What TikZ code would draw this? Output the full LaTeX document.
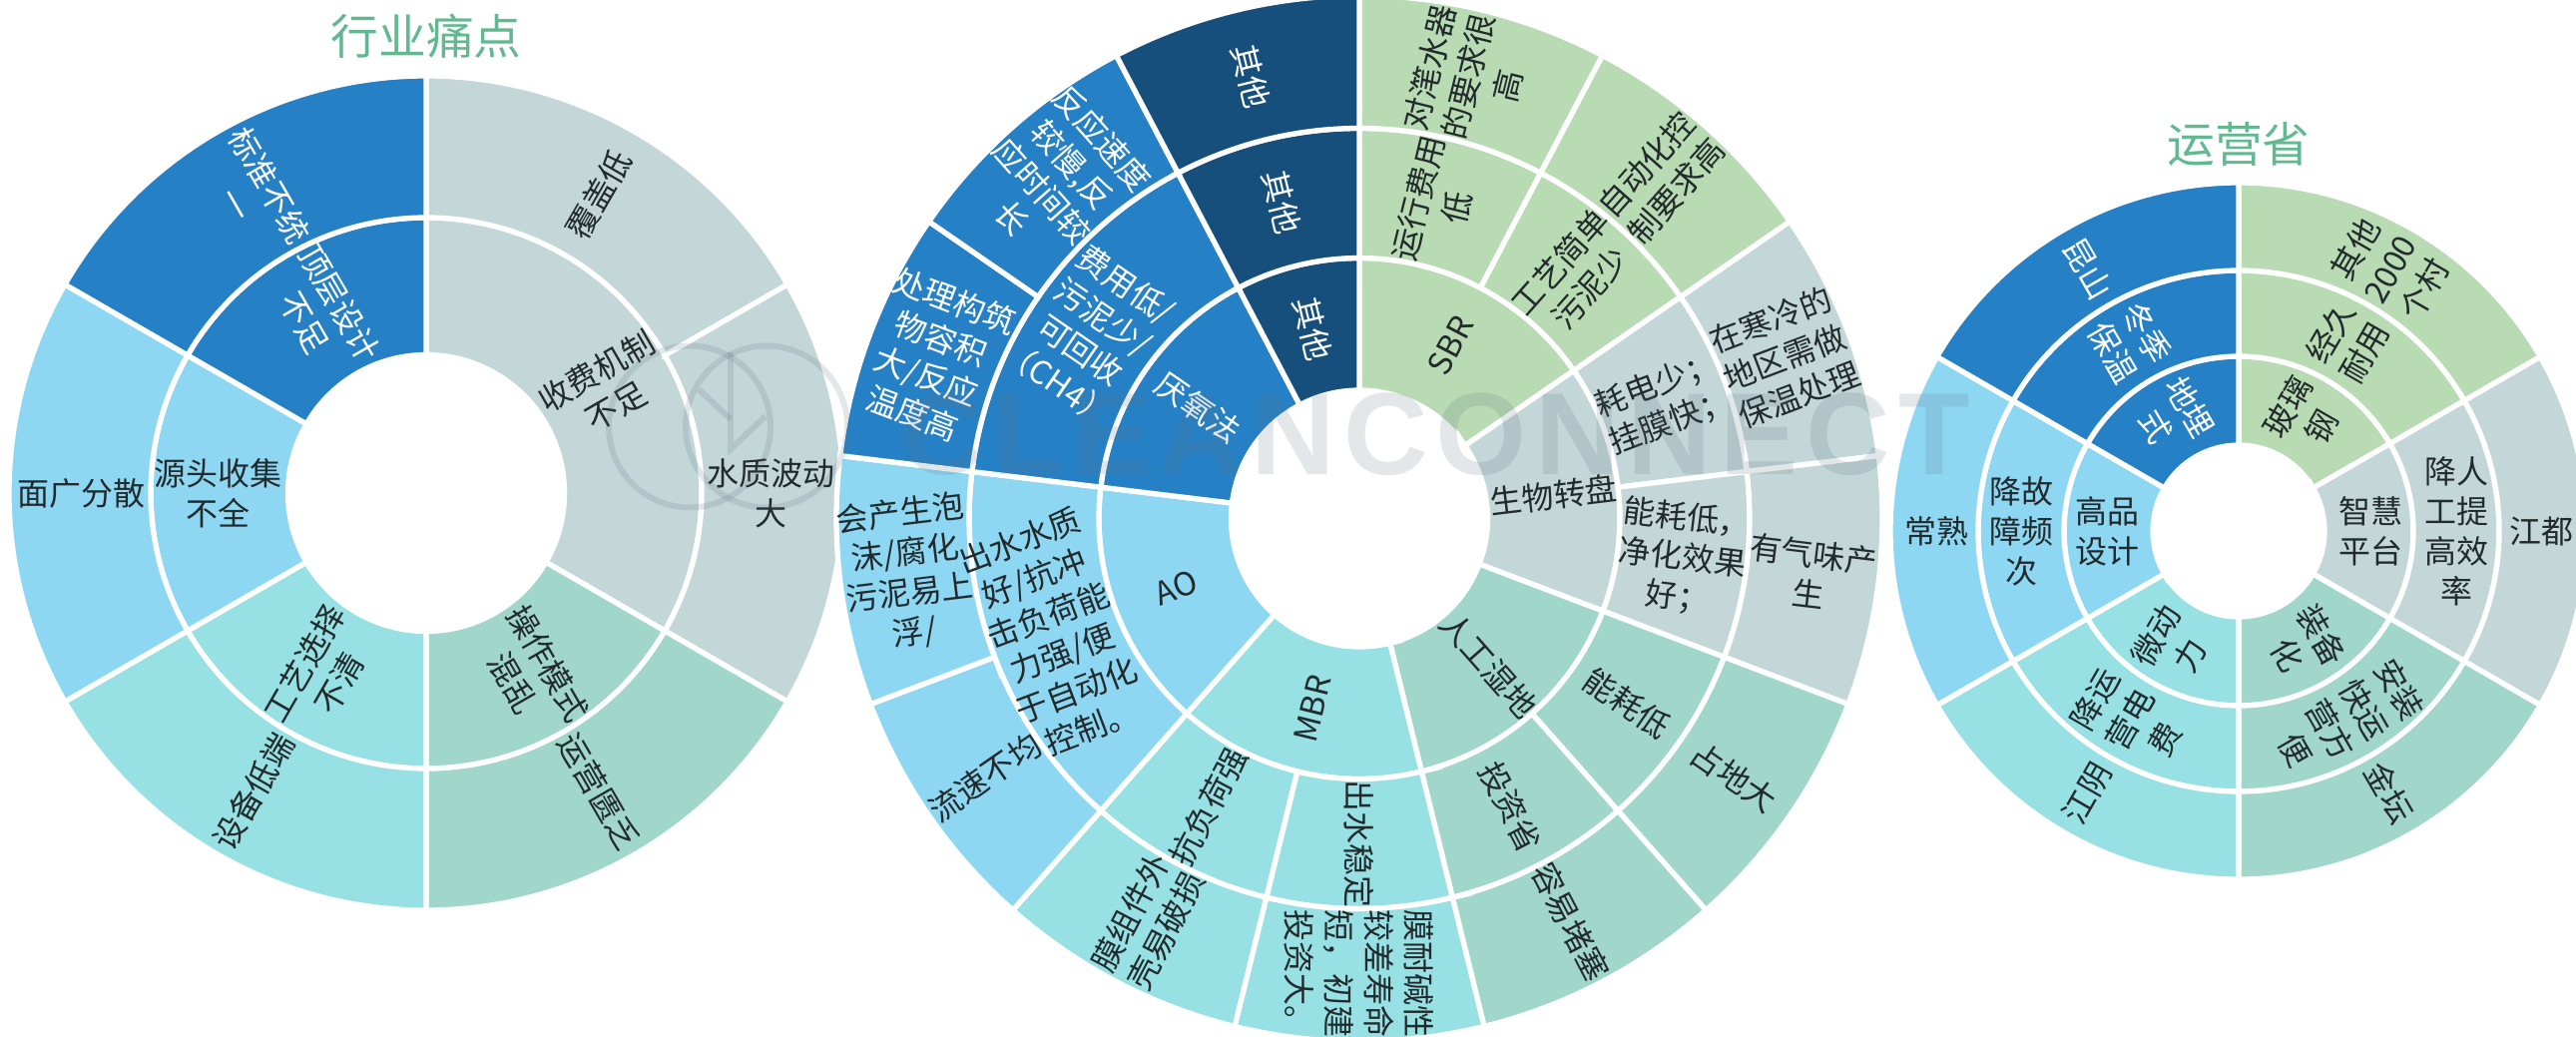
\documentclass[tikz,border=0pt]{standalone}
\usepackage{fontspec}
\setmainfont{Noto Sans CJK SC}
\newfontfamily\markfont[LetterSpace=7]{Liberation Sans}
\definecolor{cblue}{HTML}{2680C5}
\definecolor{cnavy}{HTML}{174F7C}
\definecolor{csky}{HTML}{8ED7F3}
\definecolor{cteal}{HTML}{97E0E3}
\definecolor{cmint}{HTML}{A1D6CB}
\definecolor{cgray}{HTML}{C3D7D9}
\definecolor{cgreen}{HTML}{B8DBB3}
\definecolor{ctitle}{HTML}{62B98F}
\definecolor{ctext}{HTML}{222A2C}
\definecolor{cmark}{HTML}{5D6F7F}
\tikzset{
	seclabel/.style={inner sep=0pt,align=center,text=ctext,font=\fontsize{9.1}{11.4}\selectfont},
	whitelabel/.style={seclabel,text=white},
	charttitle/.style={inner sep=0pt,text=ctitle,font=\fontsize{13.6}{15}\selectfont},
	markline/.style={draw=cmark,opacity=0.17,line width=1.7pt},
	markring/.style={markline,circle,minimum size=1.62cm,inner sep=0pt}
}
\newcommand{\ringseg}[5]{\draw[white,line width=1.5pt,fill=#5] (#3:#1) -- (#3:#2) arc[start angle=#3,end angle=#4,radius=#2] -- (#4:#1) arc[start angle=#4,end angle=#3,radius=#1] -- cycle;}
\newcommand{\seclabel}[5][seclabel]{\pgfmathsetmacro{\labrot}{cos(#4)<-0.001 ? #4+180 : #4}\node[#1,rotate=\labrot] (#2) at (#4:#3) {#5};}
\begin{document}
\begin{tikzpicture}
	\useasboundingbox (0,0) rectangle (25.81,10.38);
	%pain points
	\node[charttitle] (titlepain) at (4.27,10.02) {行业痛点};
	\begin{scope}[shift={(4.27,5.44)}]
		\foreach \a/\b/\c in {90/-30/cgray,-30/-90/cmint,-90/-150/cteal,-150/-210/csky,150/90/cblue}
			{\ringseg{1.385}{2.76}{\a}{\b}{\c}}
		\foreach \a/\b/\c in {90/30/cgray,30/-30/cgray,-30/-90/cmint,-90/-150/cteal,-150/-210/csky,150/90/cblue}
			{\ringseg{2.76}{4.18}{\a}{\b}{\c}}
		\seclabel{fee}{2.085}{30}{收费机制\\不足}
		\seclabel{oper}{2.085}{-60}{操作模式\\混乱}
		\seclabel{proc}{2.085}{-120}{工艺选择\\不清}
		\seclabel{source}{2.085}{180}{源头收集\\不全}
		\seclabel[whitelabel]{design}{2.085}{120}{顶层设计\\不足}
		\seclabel{cover}{3.455}{60}{覆盖低}
		\seclabel{quality}{3.455}{0}{水质波动\\大}
		\seclabel{lack}{3.455}{-60}{运营匮乏}
		\seclabel{device}{3.455}{-120}{设备低端}
		\seclabel{wide}{3.455}{180}{面广分散}
		\seclabel[whitelabel]{norm}{3.455}{120}{标准不统\\一}
	\end{scope}
	%process
	\begin{scope}[shift={(13.62,5.185)}]
		\foreach \a/\b/\c in {90/34.6/cgreen,34.6/-20.8/cgray,-20.8/-76.2/cmint,-76.2/-131.5/cteal,-131.5/-186.9/csky,173.1/117.7/cblue,117.7/90/cnavy}
			{\ringseg{1.285}{2.61}{\a}{\b}{\c}}
		\foreach \a/\b/\c in {90/62.3/cgreen,62.3/34.6/cgreen,34.6/6.9/cgray,6.9/-20.8/cgray,-20.8/-48.5/cmint,-48.5/-76.2/cmint,-76.2/-103.8/cteal,-103.8/-131.5/cteal,-131.5/-186.9/csky,173.1/117.7/cblue,117.7/90/cnavy}
			{\ringseg{2.61}{3.91}{\a}{\b}{\c}}
		\foreach \a/\b/\c in {90/62.3/cgreen,62.3/34.6/cgreen,34.6/6.9/cgray,6.9/-20.8/cgray,-20.8/-48.5/cmint,-48.5/-76.2/cmint,-76.2/-103.8/cteal,-103.8/-131.5/cteal,-131.5/-159.2/csky,-159.2/-186.9/csky,173.1/145.4/cblue,145.4/117.7/cblue,117.7/90/cnavy}
			{\ringseg{3.91}{5.24}{\a}{\b}{\c}}
		%inner ring
		\seclabel{sbr}{1.96}{62.3}{SBR}
		\seclabel{disc}{1.96}{6.9}{生物转盘}
		\seclabel{wetland}{1.96}{-48.5}{人工湿地}
		\seclabel{mbr}{1.96}{-103.8}{MBR}
		\seclabel{ao}{1.96}{-159.2}{AO}
		\seclabel[whitelabel]{anaer}{1.96}{145.4}{厌氧法}
		\seclabel[whitelabel]{otherA}{1.96}{103.8}{其他}
		%middle ring
		\seclabel{sbrA}{3.26}{76.15}{运行费用\\低}
		\seclabel{sbrB}{3.26}{48.45}{工艺简单\\污泥少}
		\seclabel{discA}{3.26}{20.75}{耗电少；\\挂膜快；}
		\seclabel{discB}{3.26}{-6.95}{能耗低，\\净化效果\\好；}
		\seclabel{wetA}{3.26}{-34.65}{能耗低}
		\seclabel{wetB}{3.26}{-62.35}{投资省}
		\seclabel{mbrA}{3.26}{-90}{出水稳定}
		\seclabel{mbrB}{3.26}{-117.65}{抗负荷强}
		\seclabel{aoA}{3.26}{-159.2}{出水水质\\好/抗冲\\击负荷能\\力强/便\\于自动化\\控制。}
		\seclabel[whitelabel]{anaerA}{3.26}{145.4}{费用低/\\污泥少/\\可回收\\（CH4）}
		\seclabel[whitelabel]{otherB}{3.26}{103.8}{其他}
		%outer ring
		\seclabel{sbrC}{4.56}{76.15}{对滗水器\\的要求很\\高}
		\seclabel{sbrD}{4.56}{48.45}{自动化控\\制要求高}
		\seclabel{discC}{4.56}{20.75}{在寒冷的\\地区需做\\保温处理}
		\seclabel{discD}{4.56}{-6.95}{有气味产\\生}
		\seclabel{wetC}{4.56}{-34.65}{占地大}
		\seclabel{wetD}{4.56}{-62.35}{容易堵塞}
		\seclabel{mbrC}{4.56}{-90}{膜耐碱性\\较差寿命\\短，初建\\投资大。}
		\seclabel{mbrD}{4.56}{-117.65}{膜组件外\\壳易破损}
		\seclabel{aoB}{4.56}{-145.35}{流速不均}
		\seclabel{aoC}{4.56}{-173.05}{会产生泡\\沫/腐化\\污泥易上\\浮/}
		\seclabel[whitelabel]{anaerB}{4.56}{159.25}{处理构筑\\物容积\\大/反应\\温度高}
		\seclabel[whitelabel]{anaerC}{4.56}{131.55}{反应速度\\较慢,反\\应时间较\\长}
		\seclabel[whitelabel]{otherC}{4.56}{103.8}{其他}
	\end{scope}
	%operation
	\node[charttitle] (titleop) at (22.43,8.94) {运营省};
	\begin{scope}[shift={(22.43,5.06)}]
		\foreach \ri/\ro in {0.86/1.75,1.75/2.61,2.61/3.49}
			{\foreach \a/\b/\c in {90/30/cgreen,30/-30/cgray,-30/-90/cmint,-90/-150/cteal,-150/-210/csky,150/90/cblue}
				{\ringseg{\ri}{\ro}{\a}{\b}{\c}}}
		\seclabel{glass}{1.32}{60}{玻璃\\钢}
		\seclabel{smart}{1.32}{0}{智慧\\平台}
		\seclabel{equip}{1.32}{-60}{装备\\化}
		\seclabel{micro}{1.32}{-120}{微动\\力}
		\seclabel{quality3}{1.32}{180}{高品\\设计}
		\seclabel[whitelabel]{buried}{1.32}{120}{地埋\\式}
		\seclabel{durable}{2.18}{60}{经久\\耐用}
		\seclabel{staff}{2.18}{0}{降人\\工提\\高效\\率}
		\seclabel{install}{2.18}{-60}{安装\\快运\\营方\\便}
		\seclabel{power}{2.18}{-120}{降运\\营电\\费}
		\seclabel{fault}{2.18}{180}{降故\\障频\\次}
		\seclabel[whitelabel]{winter}{2.18}{120}{冬季\\保温}
		\seclabel{rest}{3.03}{60}{其他\\2000\\个村}
		\seclabel{jiangdu}{3.03}{0}{江都}
		\seclabel{jintan}{3.03}{-60}{金坛}
		\seclabel{jiangyin}{3.03}{-120}{江阴}
		\seclabel{changshu}{3.03}{180}{常熟}
		\seclabel[whitelabel]{kunshan}{3.03}{120}{昆山}
	\end{scope}
	%watermark
	\node[inner sep=0pt,text=cmark,text opacity=0.17,font=\fontsize{33.3}{36}\selectfont\markfont\bfseries] (mark) at (14.38,6.025) {CLEANCONNECT};
	\node[markring] (ringA) at (6.91,6.105) {};
	\node[markring] (ringB) at (7.68,6.105) {};
	\coordinate (stemT) at (7.32,6.85);
	\coordinate (stemB) at (7.32,5.88);
	\coordinate (leafL) at (7.00,6.48);
	\coordinate (leafM) at (7.32,6.18);
	\coordinate (leafR) at (7.67,6.21);
	\draw[markline] (stemT) -- (stemB) -- (leafR);
	\draw[markline] (leafL) -- (leafM);
\end{tikzpicture}
\end{document}
